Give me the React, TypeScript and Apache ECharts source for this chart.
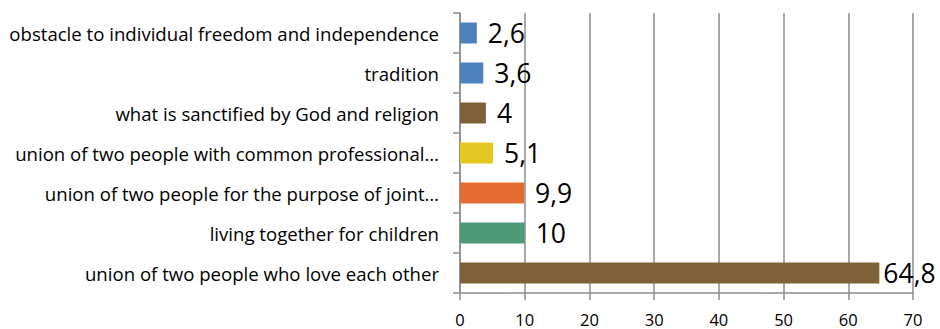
import React, { useEffect, useRef } from "react";
import * as echarts from "echarts";

const categories = [
  "union of two people who love each other",
  "living together for children",
  "union of two people for the purpose of joint…",
  "union of two people with common professional…",
  "what is sanctified by God and religion",
  "tradition",
  "obstacle to individual freedom and independence",
];
const values = [64.8, 10, 9.9, 5.1, 4, 3.6, 2.6];
const barColors = ["#7F6139", "#4E9A78", "#E46C33", "#E5C822", "#7F6139", "#4F81BD", "#4F81BD"];
const xTicks = { min: 0, max: 70, interval: 10 };

export default function App() {
  const ref = useRef<HTMLDivElement>(null);
  useEffect(() => {
    if (!ref.current) return;
    const chart = echarts.init(ref.current, null, { renderer: "svg" });
    chart.setOption({
      animation: false,
      backgroundColor: "#ffffff",
      textStyle: { fontFamily: "Open Sans" },
      grid: { left: 460, right: 27, top: 13, bottom: 36, containLabel: false },
      xAxis: {
        type: "value",
        min: xTicks.min,
        max: xTicks.max,
        interval: xTicks.interval,
        axisLine: { show: true, lineStyle: { color: "#8C8C8C", width: 1.5 } },
        axisTick: { show: true, length: 7, lineStyle: { color: "#8C8C8C", width: 1.5 } },
        splitLine: { show: true, lineStyle: { color: "#8C8C8C", width: 1.5 } },
        axisLabel: {
          color: "#000",
          fontSize: 16.5,
          lineHeight: 16,
          margin: 18,
          fontFamily: "Open Sans",
        },
      },
      yAxis: {
        type: "category",
        data: categories,
        axisLine: { show: true, lineStyle: { color: "#8C8C8C", width: 1.5 } },
        axisTick: { show: true, length: 7, lineStyle: { color: "#8C8C8C", width: 1.5 } },
        axisLabel: { color: "#000", fontSize: 18.6, margin: 21, fontFamily: "Open Sans" },
      },
      series: [
        {
          type: "bar",
          barWidth: 21,
          data: values.map((v, i) => ({
            value: v,
            itemStyle: { color: barColors[i] },
            label: i === 0 ? { distance: 4 } : undefined,
          })),
          label: {
            show: true,
            position: "right",
            distance: 11,
            color: "#000",
            fontSize: 26.5,
            fontFamily: "Open Sans",
            formatter: (p: any) => String(p.value).replace(".", ","),
          },
        },
      ],
    });
    return () => chart.dispose();
  }, []);
  return (
    <div
      ref={ref}
      style={{ position: "fixed", left: 0, top: 0, width: 940, height: 329 }}
    />
  );
}
